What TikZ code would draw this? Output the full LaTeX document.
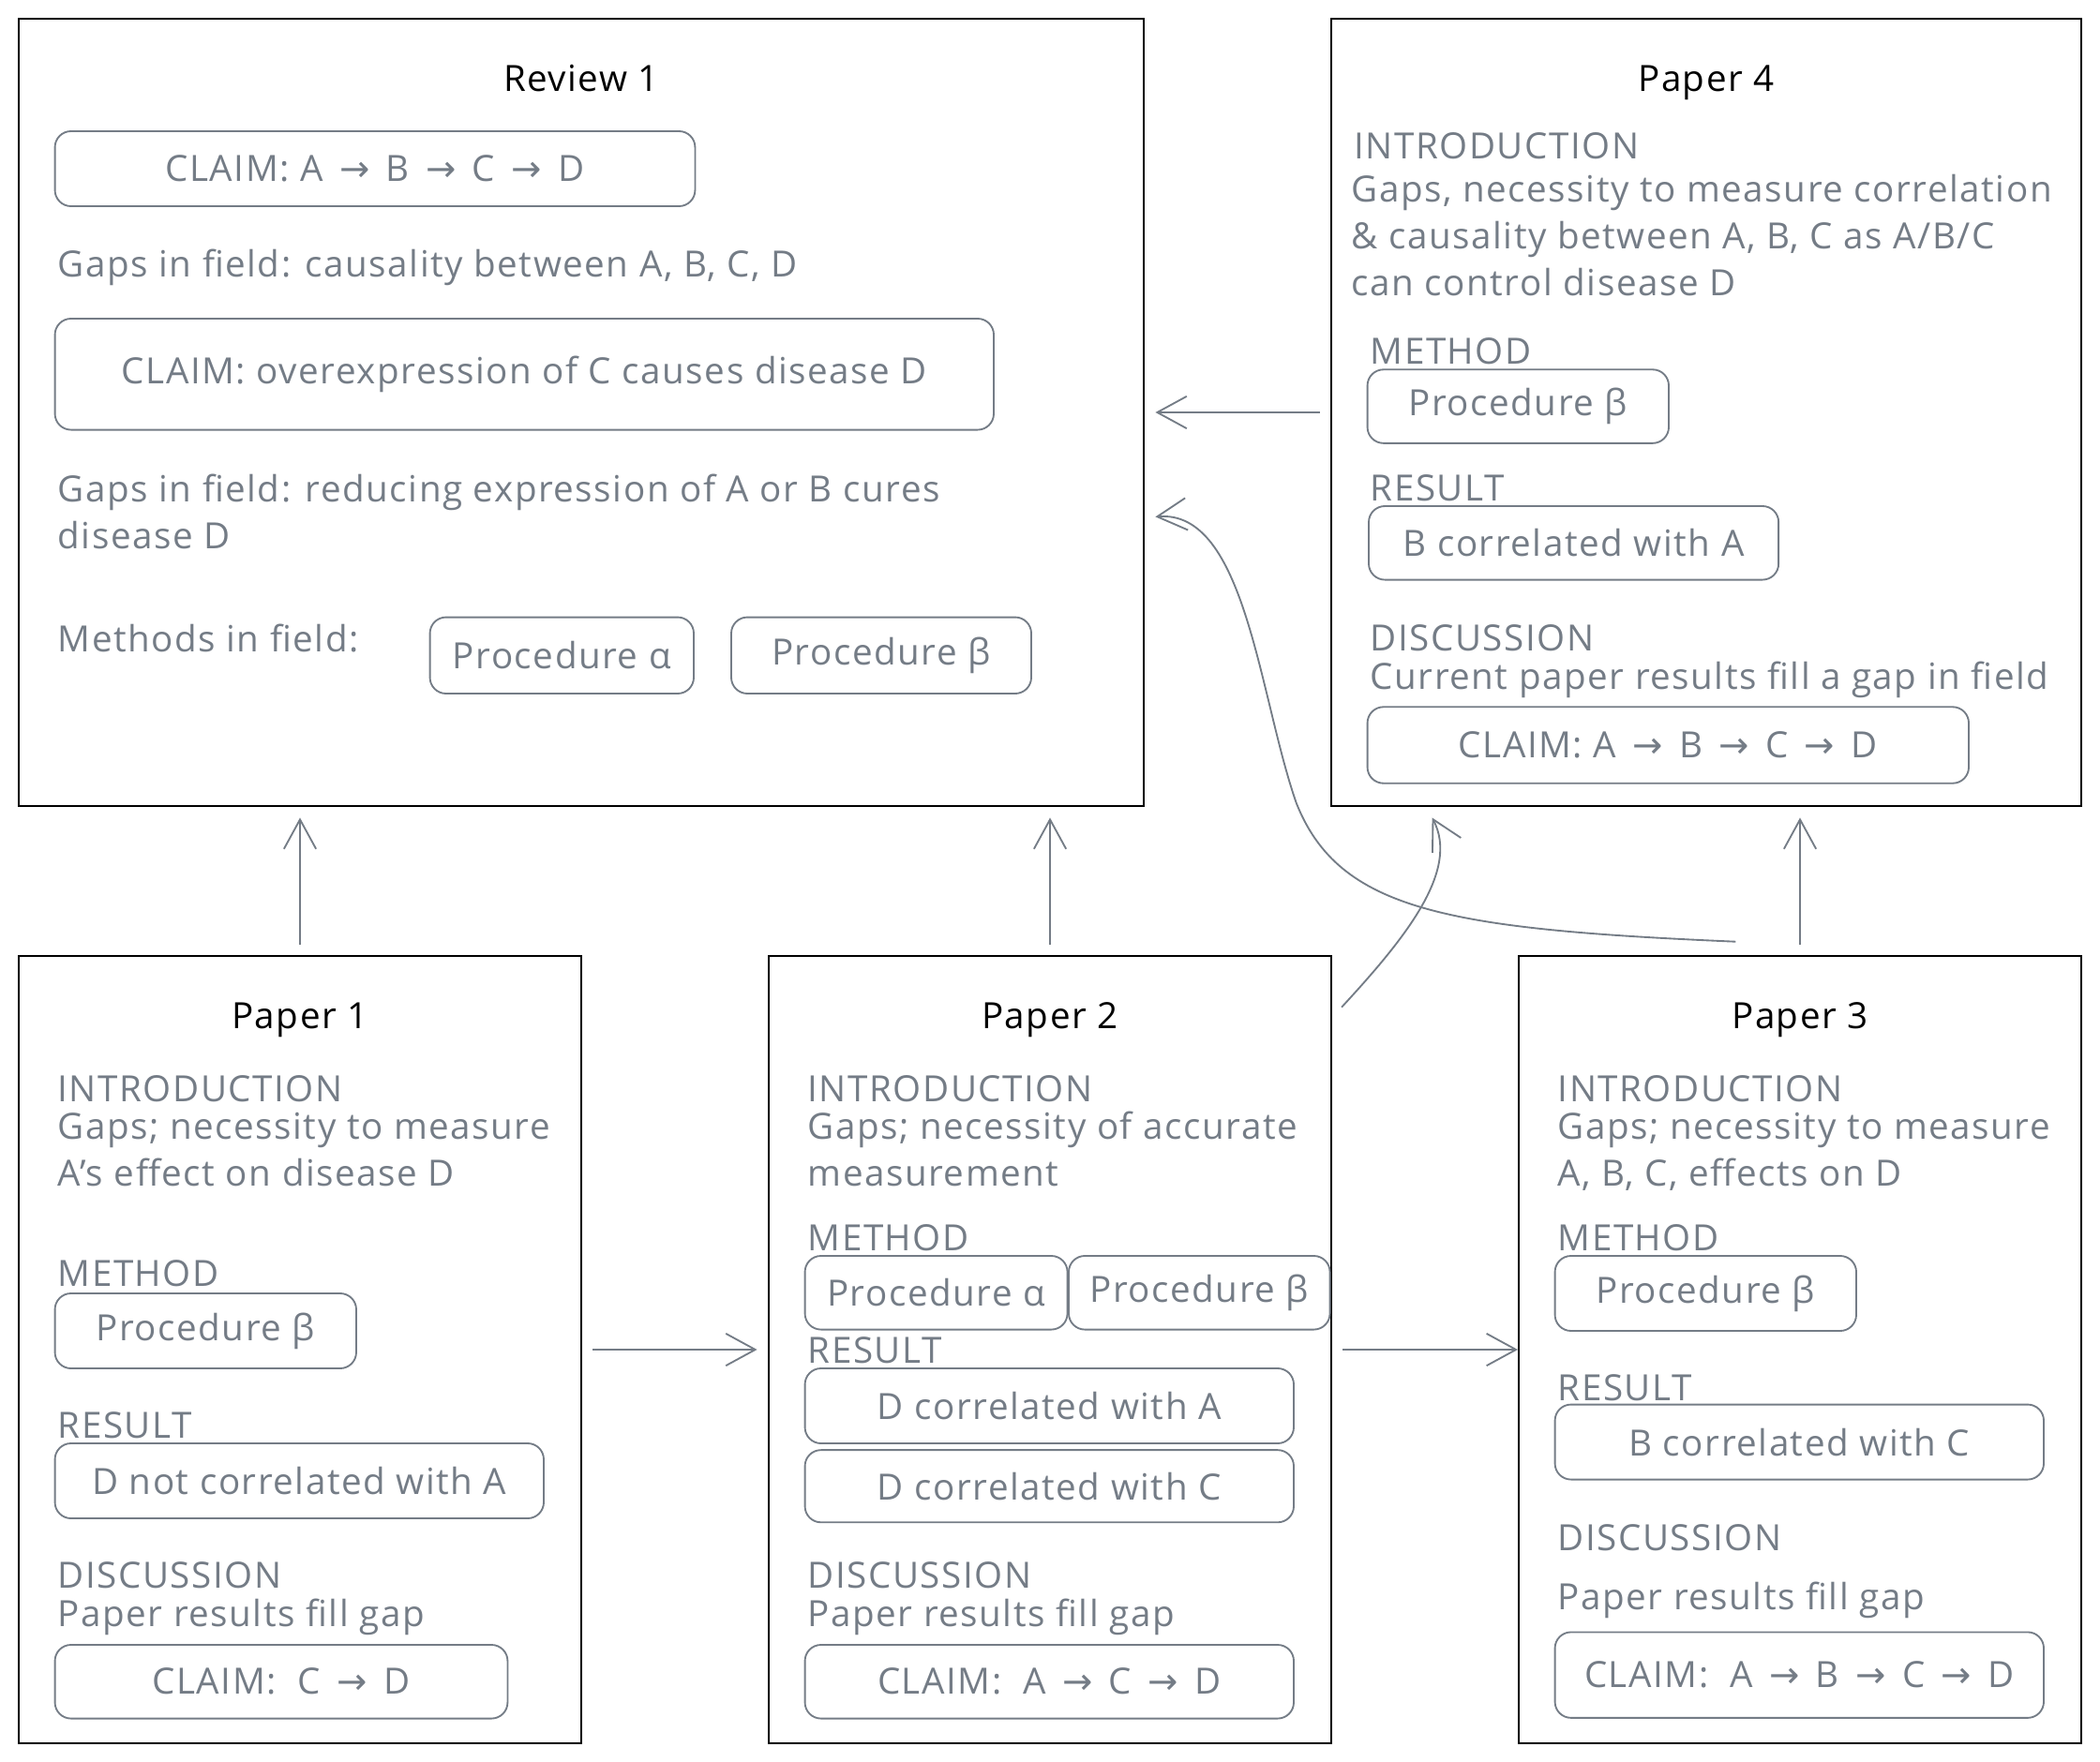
\documentclass[tikz,border=0pt]{standalone}
\usepackage{fontspec}
\setmainfont{Open Sans}[LetterSpace=4]
\newfontfamily\symbolfont{DejaVu Sans}
\usepackage{tikz}
\usetikzlibrary{arrows.meta}
\definecolor{ink}{HTML}{747C86}
\newcommand{\clarr}{\hspace{0.45em}{\symbolfont →}\hspace{0.45em}}
\tikzset{
  paperframe/.style = {rectangle, draw=black, line width=1.4pt, inner sep=0pt},
  titletext/.style  = {anchor=base, inner sep=0pt, text=black,
                       font=\fontsize{27}{35}\selectfont},
  body/.style       = {anchor=base west, inner sep=0pt, align=left, text=ink,
                       font=\fontsize{27}{35}\selectfont},
  pill/.style       = {rectangle, rounded corners=12pt, draw=ink, line width=1.3pt,
                       inner sep=0pt, text=ink, font=\fontsize{27}{35}\selectfont},
  arr/.style        = {-{Straight Barb[length=22pt,width=24pt,line width=1.3pt]},
                       line width=1.3pt, draw=ink},
}

\begin{document}
\begin{tikzpicture}[x=1pt, y=-1pt]
  \useasboundingbox (0,0) rectangle (1568,1316);

  % Review 1
  \node[paperframe, minimum width=840pt, minimum height=588pt] (rev1) at (434,308) {};
  \node[titletext] (rev1title) at (434,68) {Review 1};
  \node[pill, minimum width=478pt, minimum height=56pt] (rev1claimA) at (280,126)
       {CLAIM: A\clarr B\clarr C\clarr D};
  \node[body] (rev1gapA) at (43,207) {Gaps in field: causality between A, B, C, D};
  \node[pill, minimum width=701pt, minimum height=83pt] (rev1claimB) at (391.5,279.5)
       {CLAIM: overexpression of C causes disease D};
  \node[body] (rev1gapB) at (43,410)
       {Gaps in field: reducing expression of A or B cures\\disease D};
  \node[body] (rev1meth) at (43,487) {Methods in field:};
  \node[pill, minimum width=197pt, minimum height=57pt] (rev1procA) at (419.5,489.5)
       {Procedure α};
  \node[pill, minimum width=224pt, minimum height=57pt] (rev1procB) at (658,489.5)
       {Procedure β};

  % Paper 4
  \node[paperframe, minimum width=560pt, minimum height=588pt] (pap4) at (1274,308) {};
  \node[titletext] (pap4title) at (1274,68) {Paper 4};
  \node[body] (pap4intro) at (1011,119) {INTRODUCTION};
  \node[body] (pap4gap) at (1009,221)
       {Gaps, necessity to measure correlation\\\& causality between A, B, C as A/B/C\\can control disease D};
  \node[body] (pap4meth) at (1023,272) {METHOD};
  \node[pill, minimum width=225pt, minimum height=55pt] (pap4procB) at (1133.5,303.5)
       {Procedure β};
  \node[body] (pap4res) at (1023,374) {RESULT};
  \node[pill, minimum width=306pt, minimum height=55pt] (pap4resA) at (1175,405.5)
       {B correlated with A};
  \node[body] (pap4disc) at (1023,486) {DISCUSSION};
  \node[body] (pap4fill) at (1023,515) {Current paper results fill a gap in field};
  \node[pill, minimum width=449pt, minimum height=57pt] (pap4claim) at (1245.5,556.5)
       {CLAIM: A\clarr B\clarr C\clarr D};

  % Paper 1
  \node[paperframe, minimum width=420pt, minimum height=588pt] (pap1) at (224,1008) {};
  \node[titletext] (pap1title) at (224,768) {Paper 1};
  \node[body] (pap1intro) at (43,823) {INTRODUCTION};
  \node[body] (pap1gap) at (43,886) {Gaps; necessity to measure\\A's effect on disease D};
  \node[body] (pap1meth) at (43,961) {METHOD};
  \node[pill, minimum width=225pt, minimum height=56pt] (pap1procB) at (153.5,994)
       {Procedure β};
  \node[body] (pap1res) at (43,1074) {RESULT};
  \node[pill, minimum width=365pt, minimum height=56pt] (pap1resA) at (223.5,1106)
       {D not correlated with A};
  \node[body] (pap1disc) at (43,1186) {DISCUSSION};
  \node[body] (pap1fill) at (43,1214.5) {Paper results fill gap};
  \node[pill, minimum width=338pt, minimum height=55pt] (pap1claim) at (210,1256)
       {CLAIM:\ \ C\clarr D};

  % Paper 2
  \node[paperframe, minimum width=420pt, minimum height=588pt] (pap2) at (784,1008) {};
  \node[titletext] (pap2title) at (784,768) {Paper 2};
  \node[body] (pap2intro) at (603,823) {INTRODUCTION};
  \node[body] (pap2gap) at (603,886) {Gaps; necessity of accurate\\measurement};
  \node[body] (pap2meth) at (603,934) {METHOD};
  \node[pill, minimum width=196pt, minimum height=55pt] (pap2procA) at (699,965.5)
       {Procedure α};
  \node[pill, minimum width=195pt, minimum height=55pt] (pap2procB) at (895.5,965.5)
       {Procedure β};
  \node[body] (pap2res) at (603,1018) {RESULT};
  \node[pill, minimum width=365pt, minimum height=56pt] (pap2resA) at (783.5,1050)
       {D correlated with A};
  \node[pill, minimum width=365pt, minimum height=54pt] (pap2resC) at (783.5,1110)
       {D correlated with C};
  \node[body] (pap2disc) at (603,1186) {DISCUSSION};
  \node[body] (pap2fill) at (603,1214.5) {Paper results fill gap};
  \node[pill, minimum width=365pt, minimum height=55pt] (pap2claim) at (783.5,1256)
       {CLAIM:\ \ A\clarr C\clarr D};

  % Paper 3
  \node[paperframe, minimum width=420pt, minimum height=588pt] (pap3) at (1344,1008) {};
  \node[titletext] (pap3title) at (1344,768) {Paper 3};
  \node[body] (pap3intro) at (1163,823) {INTRODUCTION};
  \node[body] (pap3gap) at (1163,886) {Gaps; necessity to measure\\A, B, C, effects on D};
  \node[body] (pap3meth) at (1163,934) {METHOD};
  \node[pill, minimum width=225pt, minimum height=56pt] (pap3procB) at (1273.5,966)
       {Procedure β};
  \node[body] (pap3res) at (1163,1046) {RESULT};
  \node[pill, minimum width=365pt, minimum height=56pt] (pap3resC) at (1343.5,1077)
       {B correlated with C};
  \node[body] (pap3disc) at (1163,1158) {DISCUSSION};
  \node[body] (pap3fill) at (1163,1202) {Paper results fill gap};
  \node[pill, minimum width=365pt, minimum height=64pt] (pap3claim) at (1343.5,1251)
       {CLAIM:\ \ A\clarr B\clarr C\clarr D};

  % citations
  \draw[arr] ([yshift=8pt]pap1.north) -- ([yshift=-8pt]pap1.north |- rev1.south);
  \draw[arr] ([yshift=8pt]pap2.north) -- ([yshift=-8pt]pap2.north |- rev1.south);
  \draw[arr] ([yshift=8pt]pap3.north) -- ([yshift=-8pt]pap3.north |- pap4.south);
  \draw[arr] ([xshift=8pt]pap1.east) -- ([xshift=-8pt]pap2.west);
  \draw[arr] ([xshift=8pt]pap2.east) -- (pap3.west);
  \draw[arr] ([xshift=-8pt]pap4.west) -- ([xshift=8pt]rev1.east);
  \draw[arr] ([xshift=7pt,yshift=-39pt]pap2.north east)
       .. controls (1050,700) and (1090,650) .. ([xshift=76pt,yshift=-8pt]pap4.south west);
  \draw[arr] ([xshift=-48pt,yshift=10pt]pap3.north)
       .. controls (1080,694) and (1000,680) .. (968,600)
       .. controls (940,520) and (930,380) .. ([xshift=8pt,yshift=-78pt]rev1.east);

\end{tikzpicture}
\end{document}
